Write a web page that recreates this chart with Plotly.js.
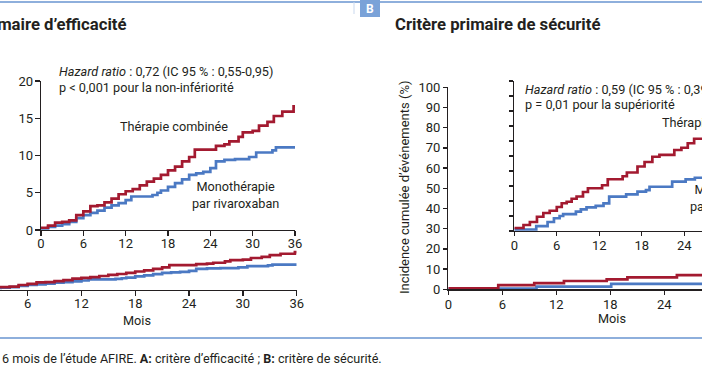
<!DOCTYPE html>
<html>
<head>
<meta charset="utf-8">
<script src="https://cdn.plot.ly/plotly-3.0.1.min.js"></script>
<style>
html,body{margin:0;padding:0;background:#fff;overflow:hidden;}
#chart{width:702px;height:370px;}
</style>
</head>
<body>
<div id="chart"></div>
<script>
// ---------- DATA ----------
// Panel A (efficacy) : cumulative incidence (%) by month
const effMonthsCombo = [0,1,2,3,4,5,6,7,8,9,10,11,12,13,14,15,16,17,18,19,20,21,21.8,24.8,26,26.7,28,28.6,30,30.9,32.1,33,34.2,35.8,36];
const effCombo       = [0.3,0.6,1.0,1.1,1.3,2.0,2.5,3.2,3.3,3.7,4.2,4.8,5.2,5.5,6.0,6.5,6.9,7.4,8.0,8.5,9.2,9.8,10.8,11.3,11.5,11.9,12.5,13.1,13.3,14.0,14.5,15.3,15.9,16.6,16.6];
const effMonthsMono  = [0,1,2,3,4,5,6,7,8,9,10,11,12,12.8,15.8,16.5,17,18,19,20,21,22,23,24,24.8,26,27.5,29.5,30.5,32.8,33.3,36];
const effMono        = [0.2,0.4,0.6,0.8,1.1,1.6,2.0,2.3,2.6,3.0,3.3,3.6,4.0,4.5,4.7,5.0,5.3,5.8,6.3,6.8,7.4,7.6,7.8,8.3,9.2,9.4,9.5,9.8,10.4,10.7,11.1,11.1];

// Panel B (safety) : zoomed inset values
const safInsetMonthsCombo = [0,1.3,2.2,3.2,4.1,5,6,6.7,7.4,8.1,8.8,9.7,10.4,12.4,13.2,15.3,15.9,17.4,18.4,19.5,20.5,22.6,23.6,24.5,25.4,27];
const safInsetCombo       = [0.2,0.4,0.6,0.95,1.2,1.35,1.6,1.85,1.95,2.15,2.3,2.6,2.85,3.05,3.45,3.65,3.9,4.3,4.6,4.95,5.07,5.4,5.55,5.85,6.15,6.15];
const safInsetMonthsMono  = [0,3.1,4.7,5.6,6.4,6.9,8.7,9.4,10.2,11.5,12.6,13.4,15.8,17.4,18.6,19.1,22.3,24.2,25.5,27];
const safInsetMono        = [0.1,0.33,0.6,0.85,1.0,1.13,1.29,1.44,1.58,1.67,1.84,2.29,2.44,2.62,2.73,2.95,3.29,3.44,3.55,3.58];

// Panel B (safety) : full-scale curves
const safMonthsCombo = [0,5.55,9.55,12.85,17.6,19.9,25.4,29];
const safCombo       = [0.5,2.1,3.1,4.1,4.9,5.9,7.0,7.0];
const safMonthsMono  = [0,5.8,9.8,18.1,29];
const safMono        = [0.2,0.4,1.3,2.7,2.7];

const monthTicks = [0,6,12,18,24,30,36];

// ---------- STYLE ----------
const W = 702, H = 370;
const RED = '#a31a30', BLUE = '#4b79c3', INK = '#231f20', RULE = '#8eafdc';
const FONT = 'Roboto, "Open Sans", sans-serif';
const px = x => x / W;
const py = y => 1 - y / H;

function line(x, y, xa, ya, color) {
  return {x: x, y: y, xaxis: xa, yaxis: ya, mode: 'lines', hoverinfo: 'skip',
          line: {shape: 'hv', color: color, width: 2.7}, showlegend: false};
}

const traces = [
  line(effMonthsMono, effMono, 'x', 'y', BLUE),
  line(effMonthsCombo, effCombo, 'x', 'y', RED),
  line(effMonthsMono, effMono, 'x2', 'y2', BLUE),
  line(effMonthsCombo, effCombo, 'x2', 'y2', RED),
  line(safMonthsMono, safMono, 'x3', 'y3', BLUE),
  line(safMonthsCombo, safCombo, 'x3', 'y3', RED),
  line(safInsetMonthsMono, safInsetMono, 'x4', 'y4', BLUE),
  line(safInsetMonthsCombo, safInsetCombo, 'x4', 'y4', RED)
];

const axBase = {
  showgrid: false, zeroline: false, showline: true, linecolor: INK, linewidth: 1.4,
  ticks: 'outside', ticklen: 5, tickwidth: 1.4, tickcolor: INK,
  tickfont: {family: FONT, size: 13, color: INK}, fixedrange: true
};
const ax = o => Object.assign({}, axBase, o);

const ann = (text, x, y, opts) => Object.assign({
  text: text, x: px(x), y: py(y), xref: 'paper', yref: 'paper',
  showarrow: false, xanchor: 'left', yanchor: 'middle',
  font: {family: FONT, size: 12.7, color: INK}
}, opts || {});

const layout = {
  width: W, height: H,
  margin: {l: 0, r: 0, t: 0, b: 0},
  paper_bgcolor: '#fff', plot_bgcolor: 'rgba(0,0,0,0)',
  font: {family: FONT, color: INK},
  showlegend: false,
  xaxis:  ax({domain: [px(41), px(295)], range: [0, 36], anchor: 'y', tickvals: monthTicks, ticklabelstandoff: -4}),
  yaxis:  ax({domain: [py(230), py(81)], range: [0, 20], anchor: 'x', tickvals: [0,5,10,15,20], ticklabelstandoff: -1}),
  xaxis2: ax({domain: [0, px(296.7)], range: [26.3/9, 36], anchor: 'y2', tickvals: monthTicks, ticklabelstandoff: -4}),
  yaxis2: {domain: [py(289.5), py(64.5)], range: [0, 100], anchor: 'x2', visible: false, fixedrange: true},
  xaxis3: ax({domain: [px(448.3), 1], range: [0, (702-448.3)/9], anchor: 'y3', tickvals: monthTicks, ticklen: 4, ticklabelstandoff: -1}),
  yaxis3: ax({domain: [py(289.3), py(87.3)], range: [0, 100], anchor: 'x3', dtick: 10, ticklen: 4}),
  xaxis4: ax({domain: [px(514.3), 1], range: [0, (702-514.3)/7.08], anchor: 'y4', tickvals: monthTicks, ticklen: 4, ticklabelstandoff: -2}),
  yaxis4: ax({domain: [py(231), py(81)], range: [0, 10], anchor: 'x4', dtick: 1, ticklen: 4, showticklabels: false}),
  shapes: [
    {type: 'line', xref: 'paper', yref: 'paper', x0: 0, x1: 1, y0: py(2), y1: py(2), line: {color: RULE, width: 2}},
    {type: 'line', xref: 'paper', yref: 'paper', x0: px(354), x1: px(354), y0: py(2), y1: py(14), line: {color: '#c9d8ee', width: 1}},
    {type: 'rect', xref: 'paper', yref: 'paper', x0: px(360), x1: px(380), y0: py(0), y1: py(17), fillcolor: '#7aa2d8', line: {width: 0}},
    {type: 'line', xref: 'paper', yref: 'paper', x0: 0, x1: 1, y0: py(338), y1: py(338), line: {color: RULE, width: 2}}
  ],
  annotations: [
    ann('<b>B</b>', 370, 9, {xanchor: 'center', font: {family: FONT, size: 12, color: '#fff'}}),
    ann('<b>Critère primaire d\u2019efficacité</b>', 128, 25, {xanchor: 'right', font: {family: FONT, size: 16.7, color: INK}}),
    ann('<b>Critère primaire de sécurité</b>', 393, 25, {font: {family: FONT, size: 16.7, color: INK}}),
    ann('<i>Hazard ratio</i> : 0,72 (IC 95 % : 0,55-0,95)', 57, 71),
    ann('p &lt; 0,001 pour la non-infériorité', 57, 87),
    ann('Thérapie combinée', 174, 126, {xanchor: 'center'}),
    ann('Monothérapie<br>par rivaroxaban', 235, 195, {xanchor: 'center'}),
    ann('Mois', 137, 320, {xanchor: 'center'}),
    ann('<i>Hazard ratio</i> : 0,59 (IC 95 % : 0,39-0,89)', 523, 89),
    ann('p = 0,01 pour la supériorité', 523, 104),
    ann('Thérapie combinée', 660, 123),
    ann('Monothérapie<br>par rivaroxaban', 733, 198, {xanchor: 'center'}),
    ann('Mois', 612, 318, {xanchor: 'center'}),
    ann('Incidence cumulée d\u2019événements (%)', 405, 187, {xanchor: 'center', textangle: -90, font: {family: FONT, size: 13, color: INK}}),
    ann('6 mois de l\u2019étude AFIRE. <b>A:</b> critère d\u2019efficacité ; <b>B:</b> critère de sécurité.', 0, 358, {font: {family: FONT, size: 12.6, color: INK}})
  ]
};

Plotly.newPlot('chart', traces, layout, {displayModeBar: false, staticPlot: true});
</script>
</body>
</html>
